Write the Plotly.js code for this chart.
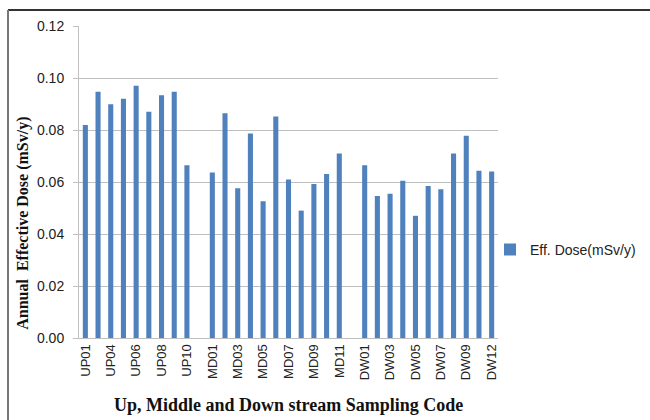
<!DOCTYPE html>
<html>
<head>
<meta charset="utf-8">
<script src="https://cdn.plot.ly/plotly-3.0.1.min.js"></script>
<style>
html,body{margin:0;padding:0;background:#fff;}
#chart{width:650px;height:420px;}
</style>
</head>
<body>
<div id="chart"></div>
<script>
// Sampling codes (blank entries separate the Up, Middle and Down groups)
const upCodes = ["UP01","UP03","UP04","UP05","UP06","UP07","UP08","UP09","UP10"];
const mdCodes = ["MD01","MD02","MD03","MD04","MD05","MD06","MD07","MD08","MD09","MD10","MD11"];
const dwCodes = ["DW01","DW02","DW03","DW04","DW05","DW06","DW07","DW08","DW09","DW10","DW12"];

const upDose = [0.0819,0.0947,0.0899,0.0920,0.0970,0.0870,0.0934,0.0947,0.0664];
const mdDose = [0.0637,0.0864,0.0576,0.0787,0.0526,0.0852,0.0610,0.0490,0.0592,0.0631,0.0710];
const dwDose = [0.0664,0.0546,0.0555,0.0605,0.0470,0.0585,0.0572,0.0710,0.0778,0.0643,0.0640];

const seriesName = "Eff. Dose(mSv/y)";

const categories = [...upCodes, " ", ...mdCodes, "  ", ...dwCodes];
const values = [...upDose, null, ...mdDose, null, ...dwDose];
const shownTicks = categories.filter((c, i) => i % 2 === 0);

const gridColor = "#c0c0c0";

const trace = {
  type: "bar",
  x: categories,
  y: values,
  name: seriesName,
  marker: {color: "#4f81bd"},
  showlegend: true
};

const L = 79, R = 498, T = 26, B = 338.3, W = 650, H = 420;
const px = v => (v - L) / (R - L);
const py = v => (B - v) / (B - T);

const layout = {
  width: W, height: H,
  margin: {l: L, r: W - R, t: T, b: H - B, autoexpand: false},
  paper_bgcolor: "#ffffff",
  plot_bgcolor: "#ffffff",
  bargap: 0.6,
  showlegend: true,
  legend: {
    x: px(490), y: py(250), xanchor: "left", yanchor: "middle",
    font: {family: "Liberation Sans, Arial, sans-serif", size: 14, color: "#222"},
    itemwidth: 30, bgcolor: "rgba(0,0,0,0)"
  },
  xaxis: {
    type: "category",
    tickmode: "array",
    tickvals: shownTicks,
    ticktext: shownTicks,
    tickangle: -90,
    tickfont: {family: "Liberation Sans, Arial, sans-serif", size: 13, color: "#222"},
    showline: true, linecolor: gridColor, linewidth: 1,
    showgrid: false, ticks: "",
    automargin: false
  },
  yaxis: {
    range: [0, 0.12],
    dtick: 0.02,
    tickformat: ".2f",
    tickfont: {family: "Liberation Sans, Arial, sans-serif", size: 14, color: "#222"},
    showgrid: true, gridcolor: gridColor, gridwidth: 1,
    showline: true, linecolor: gridColor, linewidth: 1,
    ticks: "outside", ticklen: 5, tickcolor: gridColor,
    ticklabelstandoff: 6,
    zeroline: false,
    automargin: false
  },
  annotations: [
    {text: "<b>Up, Middle and Down stream Sampling Code</b>", xref: "paper", yref: "paper",
     x: px(288), y: py(405), xanchor: "center", yanchor: "middle", showarrow: false,
     font: {family: "Liberation Serif, Times New Roman, serif", size: 18, color: "#111"}},
    {text: "<b>Annual  Effective Dose (mSv/y)</b>", xref: "paper", yref: "paper",
     x: px(23), y: py(224), xanchor: "center", yanchor: "middle", showarrow: false, textangle: -90,
     font: {family: "Liberation Serif, Times New Roman, serif", size: 16, color: "#111"}}
  ],
  shapes: [
    {type: "line", xref: "paper", yref: "paper", x0: px(8), x1: px(652), y0: py(10), y1: py(10),
     line: {color: "#333", width: 2}},
    {type: "line", xref: "paper", yref: "paper", x0: px(8), x1: px(8), y0: py(10), y1: py(422),
     line: {color: "#777", width: 2}}
  ]
};

Plotly.newPlot("chart", [trace], layout, {displayModeBar: false, staticPlot: true});
</script>
</body>
</html>
